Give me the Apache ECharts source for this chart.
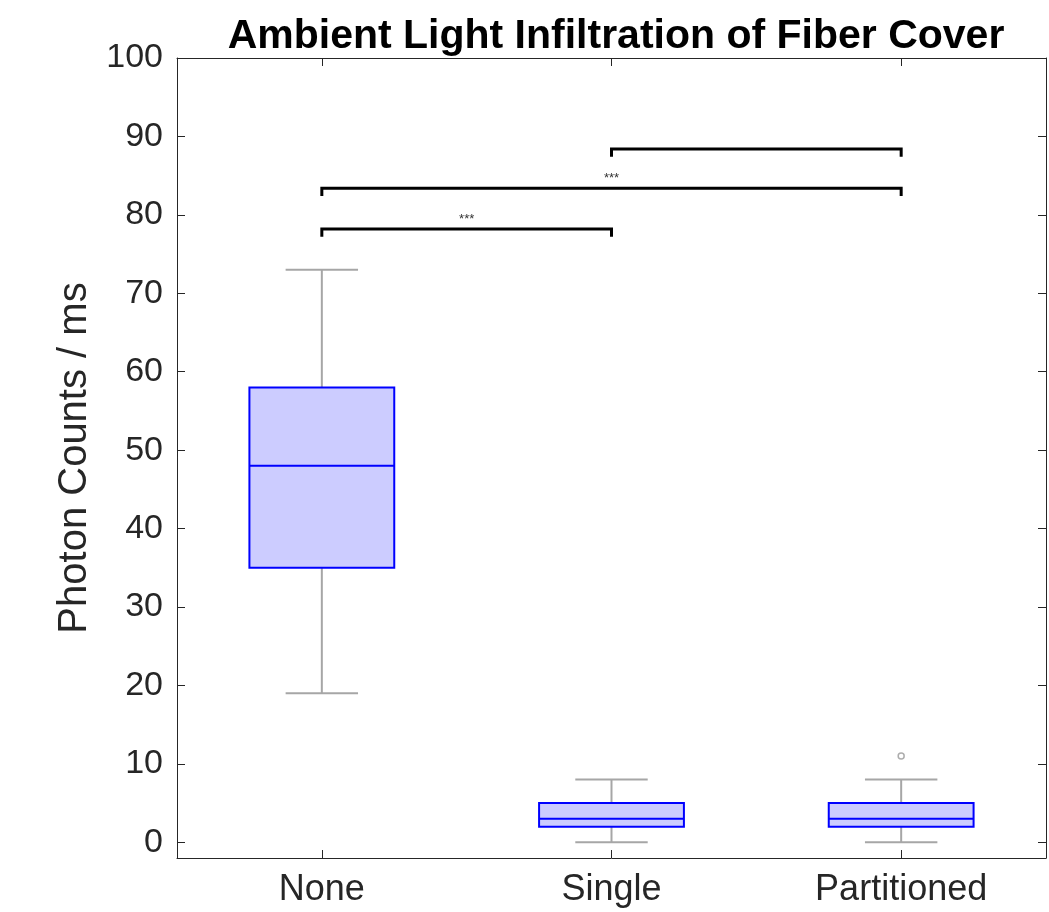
<!DOCTYPE html>
<html>
<head>
<meta charset="utf-8">
<script src="https://cdn.jsdelivr.net/npm/echarts@6/dist/echarts.min.js"></script>
<style>
  html, body { margin: 0; padding: 0; background: #fff; }
  #chart { width: 1049px; height: 912px; }
</style>
</head>
<body>
<div id="chart"></div>
<script>
// box plot statistics per group
var categories = ['None', 'Single', 'Partitioned'];
var minVals = [19, 0, 0];
var q1Vals = [35, 2, 2];
var medianVals = [48, 3, 3];
var q3Vals = [58, 5, 5];
var maxVals = [73, 8, 8];
var outliers = [[2, 11]];

// significance brackets (category index from/to, height, label)
var bracketFrom = [0, 0, 1];
var bracketTo = [1, 2, 2];
var bracketY = [78.2, 83.4, 88.4];
var bracketLabels = ['***', '***', ''];

var yTicks = [0, 10, 20, 30, 40, 50, 60, 70, 80, 90, 100];

var axisColor = '#262626';
var fontFam = '"Liberation Sans", Arial, sans-serif';

var boxData = [];
for (var i = 0; i < categories.length; i++) {
    boxData.push([i, minVals[i], q1Vals[i], medianVals[i], q3Vals[i], maxVals[i]]);
}
var bracketData = [];
for (var j = 0; j < bracketFrom.length; j++) {
    bracketData.push([bracketFrom[j], bracketTo[j], bracketY[j], bracketLabels[j]]);
}

var myChart = echarts.init(document.getElementById('chart'));

function renderBox(params, api) {
    var x = api.value(0);
    var pMin = api.coord([x, api.value(1)]);
    var pQ1 = api.coord([x, api.value(2)]);
    var pMed = api.coord([x, api.value(3)]);
    var pQ3 = api.coord([x, api.value(4)]);
    var pMax = api.coord([x, api.value(5)]);
    var band = api.size([1, 0])[0];
    var halfBox = band * 0.25;
    var halfCap = band * 0.125;
    var cx = pMed[0];
    var grey = { stroke: '#a6a6a6', lineWidth: 2, fill: null };
    var blue = { stroke: '#0000ff', lineWidth: 2 };
    return {
        type: 'group',
        children: [
            { type: 'line', shape: { x1: cx, y1: pMin[1], x2: cx, y2: pQ1[1] }, style: grey },
            { type: 'line', shape: { x1: cx, y1: pQ3[1], x2: cx, y2: pMax[1] }, style: grey },
            { type: 'line', shape: { x1: cx - halfCap, y1: pMin[1], x2: cx + halfCap, y2: pMin[1] }, style: grey },
            { type: 'line', shape: { x1: cx - halfCap, y1: pMax[1], x2: cx + halfCap, y2: pMax[1] }, style: grey },
            {
                type: 'rect',
                shape: { x: cx - halfBox, y: pQ3[1], width: halfBox * 2, height: pQ1[1] - pQ3[1] },
                style: { fill: '#ccccff', stroke: '#0000ff', lineWidth: 2 }
            },
            { type: 'line', shape: { x1: cx - halfBox, y1: pMed[1], x2: cx + halfBox, y2: pMed[1] }, style: blue }
        ]
    };
}

function renderBracket(params, api) {
    var y = api.value(2);
    var a = api.coord([api.value(0), y]);
    var b = api.coord([api.value(1), y]);
    var drop = api.coord([api.value(0), y - 1])[1];
    var label = bracketLabels[params.dataIndex];
    var children = [{
        type: 'polyline',
        shape: { points: [[a[0], drop], [a[0], a[1]], [b[0], b[1]], [b[0], drop]] },
        style: { stroke: '#000', lineWidth: 3, fill: null }
    }];
    if (label) {
        children.push({
            type: 'text',
            style: {
                text: label, x: (a[0] + b[0]) / 2, y: a[1] - 3,
                align: 'center', verticalAlign: 'bottom',
                font: '13px ' + fontFam, fill: '#333'
            }
        });
    }
    return { type: 'group', children: children };
}

var option = {
    animation: false,
    backgroundColor: '#fff',
    title: {
        text: 'Ambient Light Infiltration of Fiber Cover',
        left: 611, top: 11, textAlign: 'center',
        textStyle: { fontFamily: fontFam, fontWeight: 'bold', fontSize: 41, color: '#000' }
    },
    grid: { left: 177, top: 58, right: 3, bottom: 54 },
    xAxis: [{
        type: 'category',
        data: categories,
        boundaryGap: true,
        axisLine: { onZero: false, lineStyle: { color: axisColor, width: 1 } },
        axisTick: { show: true, inside: true, length: 8, alignWithLabel: true, lineStyle: { color: axisColor } },
        axisLabel: { color: axisColor, fontSize: 36, fontFamily: fontFam, margin: 14 },
        splitLine: { show: false }
    }, {
        type: 'category',
        data: categories,
        position: 'top',
        boundaryGap: true,
        axisLine: { onZero: false, lineStyle: { color: axisColor, width: 1 } },
        axisTick: { show: true, inside: true, length: 8, alignWithLabel: true, lineStyle: { color: axisColor } },
        axisLabel: { show: false }
    }],
    yAxis: [{
        type: 'value',
        min: -2, max: 100,
        name: 'Photon Counts / ms',
        nameLocation: 'middle',
        nameGap: 80,
        nameTextStyle: { fontSize: 40, fontFamily: fontFam, color: axisColor },
        axisLine: { show: true, onZero: false, lineStyle: { color: axisColor, width: 1 } },
        axisTick: { show: true, inside: true, length: 8, customValues: yTicks, lineStyle: { color: axisColor } },
        axisLabel: { color: axisColor, fontSize: 34, fontFamily: fontFam, margin: 14, customValues: yTicks },
        splitLine: { show: false }
    }, {
        type: 'value',
        min: -2, max: 100,
        position: 'right',
        axisLine: { show: true, onZero: false, lineStyle: { color: axisColor, width: 1 } },
        axisTick: { show: true, inside: true, length: 8, customValues: yTicks, lineStyle: { color: axisColor } },
        axisLabel: { show: false, customValues: yTicks },
        splitLine: { show: false }
    }],
    series: [{
        type: 'custom',
        name: 'box',
        renderItem: renderBox,
        encode: { x: 0, y: [1, 2, 3, 4, 5] },
        data: boxData,
        z: 2
    }, {
        type: 'scatter',
        name: 'outliers',
        data: outliers,
        symbol: 'circle',
        symbolSize: 6,
        itemStyle: { color: '#fff', borderColor: '#999', borderWidth: 1.5 },
        z: 3
    }, {
        type: 'custom',
        name: 'brackets',
        renderItem: renderBracket,
        encode: { x: [0, 1], y: 2 },
        data: bracketData,
        z: 4
    }]
};

myChart.setOption(option);
</script>
</body>
</html>
